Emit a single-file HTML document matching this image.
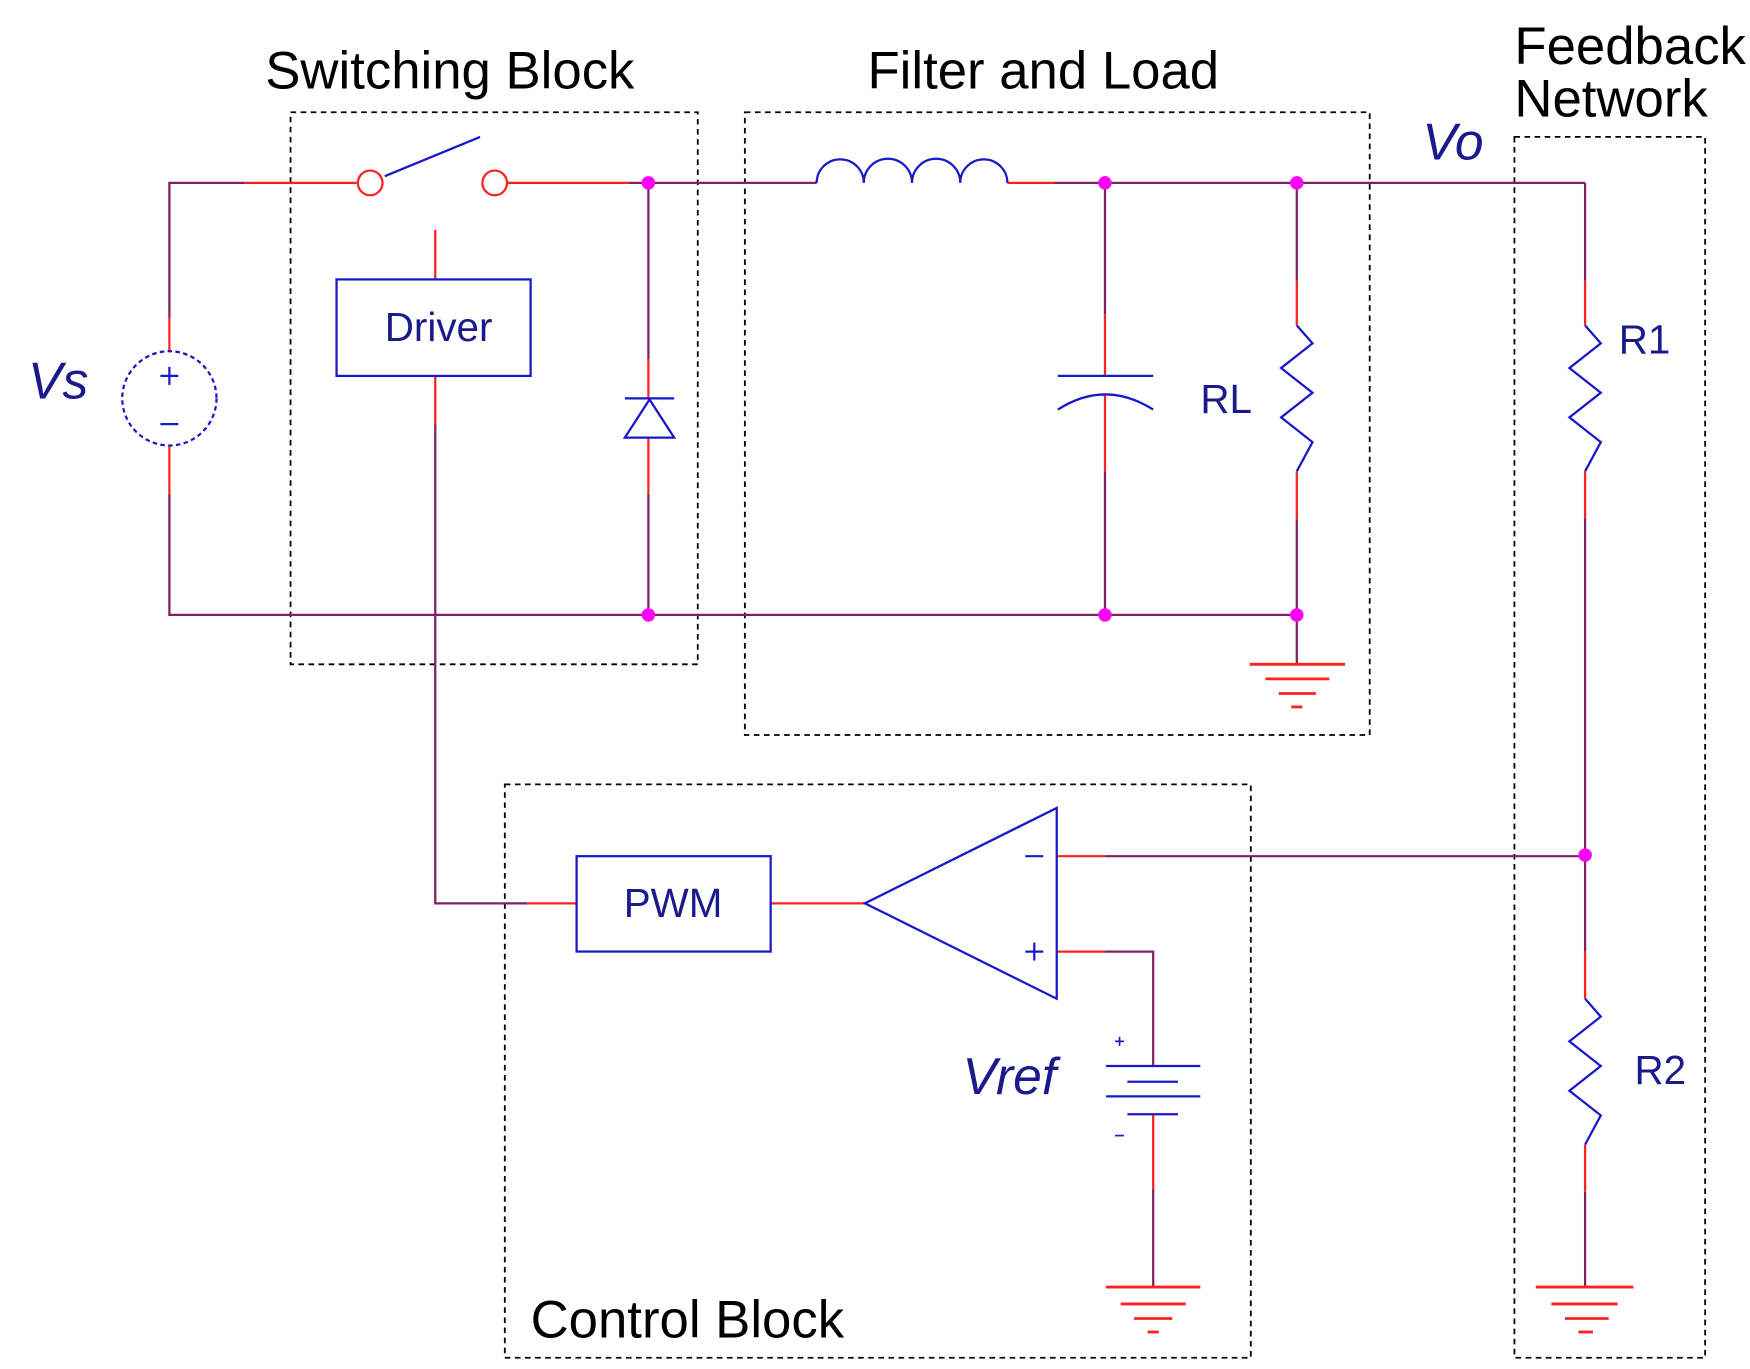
<!DOCTYPE html>
<html><head><style>html,body{margin:0;padding:0;background:#fff}svg{display:block}</style></head>
<body>
<svg width="1750" height="1369" viewBox="0 0 1560 1220" preserveAspectRatio="none" xmlns="http://www.w3.org/2000/svg" font-family="Liberation Sans, sans-serif">
<g fill="none" stroke="#000" stroke-width="1.6" stroke-dasharray="5,4">
<rect x="259" y="100" width="363" height="492"/>
<rect x="664" y="100" width="557" height="555"/>
<rect x="1350" y="122" width="170" height="1088"/>
<rect x="450" y="699" width="665" height="511"/>
</g>
<g font-size="47" fill="#000">
<text x="401" y="79" text-anchor="middle">Switching Block</text>
<text x="930" y="79" text-anchor="middle">Filter and Load</text>
<text x="1350" y="57">Feedback</text>
<text x="1350" y="104">Network</text>
<text x="473" y="1192">Control Block</text>
</g>
<g font-size="46" fill="#1a1a8c" font-style="italic">
<text x="25" y="355">Vs</text>
<text x="1268" y="142">Vo</text>
<text x="858" y="975">Vref</text>
</g>
<g font-size="36" fill="#1a1a8c">
<text x="343" y="304">Driver</text>
<text x="556" y="817">PWM</text>
<text x="1070" y="368">RL</text>
<text x="1443" y="315">R1</text>
<text x="1457" y="966">R2</text>
</g>
<g fill="none" stroke="#80205f" stroke-width="2">
<polyline points="218,163 151,163 151,283"/>
<polyline points="151,440 151,548 1156,548"/>
<line x1="560" y1="163" x2="728" y2="163"/>
<line x1="940" y1="163" x2="1413" y2="163"/>
<line x1="1413" y1="163" x2="1413" y2="250"/>
<line x1="578" y1="163" x2="578" y2="320"/>
<line x1="578" y1="440" x2="578" y2="548"/>
<line x1="985" y1="163" x2="985" y2="280"/>
<line x1="985" y1="420" x2="985" y2="548"/>
<line x1="1156" y1="163" x2="1156" y2="250"/>
<line x1="1156" y1="463" x2="1156" y2="592"/>
<polyline points="388,378 388,805 470,805"/>
<line x1="985" y1="763" x2="1413" y2="763"/>
<line x1="1413" y1="462" x2="1413" y2="848"/>
<line x1="1413" y1="1062" x2="1413" y2="1147"/>
<polyline points="985,848 1028,848 1028,950"/>
<line x1="1028" y1="1060" x2="1028" y2="1147"/>
</g>
<g fill="none" stroke="#ff2020" stroke-width="2">
<line x1="218" y1="163" x2="318" y2="163"/>
<line x1="452" y1="163" x2="560" y2="163"/>
<line x1="898" y1="163" x2="940" y2="163"/>
<line x1="151" y1="283" x2="151" y2="313"/>
<line x1="151" y1="398" x2="151" y2="440"/>
<line x1="578" y1="320" x2="578" y2="355"/>
<line x1="578" y1="390" x2="578" y2="440"/>
<line x1="388" y1="205" x2="388" y2="249"/>
<line x1="388" y1="335" x2="388" y2="378"/>
<line x1="470" y1="805" x2="514" y2="805"/>
<line x1="687" y1="805" x2="771" y2="805"/>
<line x1="942" y1="763" x2="985" y2="763"/>
<line x1="942" y1="848" x2="985" y2="848"/>
<line x1="985" y1="280" x2="985" y2="335"/>
<line x1="985" y1="352" x2="985" y2="420"/>
<line x1="1156" y1="250" x2="1156" y2="290"/>
<line x1="1156" y1="420" x2="1156" y2="463"/>
<line x1="1413" y1="250" x2="1413" y2="290"/>
<line x1="1413" y1="420" x2="1413" y2="462"/>
<line x1="1413" y1="848" x2="1413" y2="890"/>
<line x1="1413" y1="1020" x2="1413" y2="1062"/>
<line x1="1028" y1="993" x2="1028" y2="1060"/>
<circle cx="330" cy="163" r="11"/>
<circle cx="441" cy="163" r="11"/>
<g stroke-width="2.5">
<line x1="1114" y1="592" x2="1199" y2="592"/><line x1="1128" y1="605" x2="1185" y2="605"/><line x1="1140" y1="618" x2="1173" y2="618"/><line x1="1151" y1="630" x2="1161" y2="630"/>
<line x1="986" y1="1147" x2="1070" y2="1147"/><line x1="999" y1="1162" x2="1057" y2="1162"/><line x1="1011" y1="1175" x2="1045" y2="1175"/><line x1="1023" y1="1187" x2="1033" y2="1187"/>
<line x1="1369" y1="1147" x2="1456" y2="1147"/><line x1="1383" y1="1162" x2="1442" y2="1162"/><line x1="1395" y1="1175" x2="1434" y2="1175"/><line x1="1407" y1="1187" x2="1420" y2="1187"/>
</g>
</g>
<g fill="none" stroke="#1818c8" stroke-width="2">
<line x1="343" y1="157" x2="428" y2="122"/>
<path d="M728,163 a21,21 0 0 1 42,0 a21,21 0 0 1 43,0 a21,21 0 0 1 43,0 a21,21 0 0 1 42,0"/>
<circle cx="151" cy="355" r="42" stroke-dasharray="4,3"/>
<line x1="143" y1="335" x2="159" y2="335"/><line x1="151" y1="327" x2="151" y2="343"/>
<line x1="143" y1="378" x2="159" y2="378"/>
<rect x="300" y="249" width="173" height="86"/>
<rect x="514" y="763" width="173" height="85"/>
<line x1="557" y1="355" x2="601" y2="355"/>
<polygon points="557,390 601,390 579,356"/>
<polygon points="771,805 942,720 942,890"/>
<line x1="914" y1="763" x2="930" y2="763"/>
<line x1="914" y1="848" x2="930" y2="848"/><line x1="922" y1="840" x2="922" y2="856"/>
<line x1="943" y1="335" x2="1028" y2="335"/>
<path d="M943,365 Q985,338 1028,365"/>
<polyline points="1156,290 1170,306 1142,328 1170,350 1142,372 1170,394 1156,420"/>
<polyline points="1413,290 1427,306 1399,328 1427,350 1399,372 1427,394 1413,420"/>
<polyline points="1413,890 1427,906 1399,928 1427,950 1399,972 1427,994 1413,1020"/>
<line x1="986" y1="950" x2="1070" y2="950"/>
<line x1="1005" y1="964" x2="1050" y2="964"/>
<line x1="986" y1="977" x2="1070" y2="977"/>
<line x1="1005" y1="993" x2="1050" y2="993"/>
<line x1="994" y1="928" x2="1002" y2="928" stroke-width="1.5"/><line x1="998" y1="924" x2="998" y2="932" stroke-width="1.5"/>
<line x1="994" y1="1012" x2="1002" y2="1012" stroke-width="1.5"/>
</g>
<g fill="#ff00ff">
<circle cx="578" cy="163" r="6"/><circle cx="985" cy="163" r="6"/><circle cx="1156" cy="163" r="6"/>
<circle cx="578" cy="548" r="6"/><circle cx="985" cy="548" r="6"/><circle cx="1156" cy="548" r="6"/>
<circle cx="1413" cy="762" r="6"/>
</g>
</svg>
</body></html>
